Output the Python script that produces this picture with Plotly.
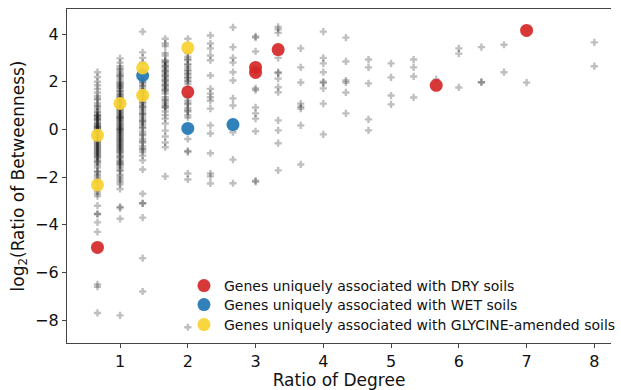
import plotly.graph_objects as go

# ---- gray background genes: one list of log2(betweenness ratio) per degree-ratio column ----
deg_cols = [2/3, 1, 4/3, 5/3, 2, 7/3, 8/3, 3, 10/3, 11/3, 4, 13/3, 14/3, 5, 16/3, 17/3, 6, 19/3, 20/3, 7, 8]

b_067 = [2.4, 2.2, 2.0, 1.85, 1.7, 1.55, 1.4, 1.3, 1.25, 1.1, 1.0, 0.95, 0.85, 0.75, 0.7, 0.6, 0.6,
         0.55, 0.5, 0.45, 0.4, 0.4, 0.3, 0.25, 0.2, 0.15, 0.1, 0.1, 0.05, 0.0, -0.05, -0.1, -0.2,
         -0.3, -0.35, -0.45, -0.5, -0.55, -0.6, -0.65, -0.7, -0.75, -0.8, -0.85, -0.9, -0.95, -1.0,
         -1.05, -1.1, -1.15, -1.2, -1.3, -1.35, -1.4, -1.5, -1.6, -1.75, -1.8, -1.9, -2.0, -2.1,
         -2.2, -2.45, -2.6, -2.7, -2.8, -3.2, -3.55, -3.55, -3.9, -4.3, -6.5, -6.6, -7.7]
b_1 = [2.98, 2.8, 2.65, 2.55, 2.5, 2.4, 2.3, 2.25, 2.2, 2.1, 2.0, 1.95, 1.9, 1.85, 1.8, 1.75, 1.7,
       1.6, 1.6, 1.5, 1.45, 1.4, 1.35, 1.3, 1.25, 1.2, 1.15, 1.1, 1.0, 0.95, 0.9, 0.85, 0.8, 0.75,
       0.7, 0.65, 0.6, 0.55, 0.5, 0.5, 0.45, 0.4, 0.35, 0.3, 0.25, 0.2, 0.15, 0.1, 0.05, 0.0, 0.0,
       -0.05, -0.1, -0.15, -0.2, -0.25, -0.3, -0.35, -0.4, -0.45, -0.5, -0.55, -0.6, -0.65, -0.7,
       -0.75, -0.8, -0.85, -0.9, -0.95, -1.0, -1.1, -1.15, -1.2, -1.3, -1.35, -1.4, -1.45, -1.5,
       -1.6, -1.7, -1.75, -1.9, -2.0, -2.1, -2.2, -2.3, -2.5, -3.25, -3.3, -3.75, -7.8]
b_133 = [4.1, 3.23, 3.0, 2.8, 2.45, 2.1, 2.0, 1.95, 1.85, 1.8, 1.7, 1.6, 1.55, 1.4, 1.35, 1.25,
         1.15, 1.1, 1.0, 0.95, 0.9, 0.8, 0.7, 0.65, 0.6, 0.5, 0.4, 0.35, 0.3, 0.2, 0.1, 0.05, -0.1,
         -0.2, -0.25, -0.4, -0.5, -0.55, -0.7, -0.8, -0.85, -0.95, -1.1, -1.3, -1.68, -2.7, -3.1,
         -3.1, -3.7, -5.4, -6.8]
b_167 = [3.8, 3.6, 3.5, 3.2, 3.1, 2.9, 2.85, 2.8, 2.7, 2.65, 2.6, 2.5, 2.45, 2.4, 2.3, 2.25, 2.2,
         2.1, 2.05, 2.0, 1.9, 1.85, 1.8, 1.7, 1.65, 1.6, 1.5, 1.35, 1.25, 1.2, 1.1, 1.0, 0.95, 0.9,
         0.75, 0.6, 0.45, 0.25, -0.05, -0.3, -0.55, -0.75, -1.97]
b_2 = [3.8, 3.2, 3.05, 2.95, 2.9, 2.75, 2.7, 2.6, 2.5, 2.45, 2.35, 2.3, 2.2, 2.15, 2.05, 2.0, 1.9,
       1.35, 1.2, 1.1, 1.05, 0.9, 0.8, 0.75, 0.6, 0.5, -0.4, -0.9, -0.95, -1.85, -2.1, -8.3]
b_233 = [3.94, 3.6, 3.4, 3.1, 2.9, 2.26, 1.7, 1.5, 1.35, 1.2, 0.87, 0.17, -0.17, -1.0, -1.85,
         -1.97, -2.27]
b_267 = [4.28, 3.45, 3.0, 2.8, 2.4, 2.05, 1.3, 1.0, -0.12, -1.27, -2.26]
b_3 = [3.9, 3.85, 3.27, 1.72, 1.65, 0.92, 0.67, 0.45, -0.08, -2.15, -2.2]
b_333 = [4.3, 4.2, 4.05, 3.0, 2.4, 2.36, 2.13, 1.77, 1.56, 0.38, -0.04, -0.58, -1.72]
b_367 = [3.4, 2.6, 1.97, 1.08, 0.95, 0.87, 0.17, -1.47]
b_4 = [4.1, 3.0, 2.77, 2.4, 2.0, 1.95, 1.72, 1.08, -0.21]
b_433 = [3.85, 2.85, 2.05, 1.97, 1.55, 0.67]
b_467 = [2.93, 2.6, 1.93, 0.42, -0.04]
b_5 = [2.77, 2.18, 1.42, 1.05]
b_533 = [2.93, 2.6, 2.22, 1.34]
b_567 = [2.1]
b_6 = [3.4, 3.18, 1.76]
b_633 = [3.45, 1.98, 1.98]
b_667 = [3.55, 2.4]
b_7 = [1.96]
b_8 = [3.65, 2.65]
bg_cols = [b_067, b_1, b_133, b_167, b_2, b_233, b_267, b_3, b_333, b_367, b_4, b_433, b_467,
           b_5, b_533, b_567, b_6, b_633, b_667, b_7, b_8]

# ---- highlighted gene groups ----
dry_x = [2/3, 2, 3, 3, 10/3, 17/3, 7]
dry_y = [-4.95, 1.57, 2.6, 2.39, 3.35, 1.85, 4.15]
wet_x = [4/3, 2, 8/3]
wet_y = [2.26, 0.04, 0.2]
gly_x = [2/3, 2/3, 1, 4/3, 4/3, 2]
gly_y = [-0.25, -2.33, 1.09, 2.58, 1.43, 3.42]

labels = ["Genes uniquely associated with DRY soils",
          "Genes uniquely associated with WET soils",
          "Genes uniquely associated with GLYCINE-amended soils"]
colors = ["#d62728", "#1f77b4", "#f9d22e"]

bg_x, bg_y = [], []
for xv, col in zip(deg_cols, bg_cols):
    bg_x += [xv] * len(col)
    bg_y += col

font = "DejaVu Sans, sans-serif"

fig = go.Figure()
fig.add_trace(go.Scatter(x=bg_x, y=bg_y, mode="markers", showlegend=False,
                         marker=dict(symbol="cross", size=6, color="rgba(0,0,0,0.25)",
                                     line=dict(width=0))))
legend_names = ["legend", "legend2", "legend3"]
for xs, ys, lab, c, lg in zip([dry_x, wet_x, gly_x], [dry_y, wet_y, gly_y], labels, colors,
                              legend_names):
    fig.add_trace(go.Scatter(x=xs, y=ys, mode="markers", name=lab, legend=lg,
                             marker=dict(symbol="circle", size=13, color=c, opacity=0.92,
                                         line=dict(width=0))))

legend_rows = [0.1707, 0.1138, 0.0539]
legend_style = dict(x=0.215, xanchor="left", yanchor="middle",
                    bgcolor="rgba(255,255,255,0)", font=dict(size=14, family=font, color="#111"),
                    itemwidth=30)

fig.update_layout(
    width=621, height=390,
    margin=dict(l=67, r=0, t=9, b=47),
    paper_bgcolor="white", plot_bgcolor="white",
    font=dict(family=font, color="#111"),
    legend=dict(y=legend_rows[0], **legend_style),
    legend2=dict(y=legend_rows[1], **legend_style),
    legend3=dict(y=legend_rows[2], **legend_style),
    xaxis=dict(range=[0.217, 8.246], tickmode="array", tickvals=[1, 2, 3, 4, 5, 6, 7, 8],
               automargin=False,
               showgrid=False, zeroline=False, showline=True, linecolor="#444", linewidth=1.2,
               mirror=True, ticks="outside", ticklen=4, tickcolor="#444",
               tickfont=dict(size=16, family=font, color="#111"),
               title=dict(text="Ratio of Degree", font=dict(size=17, family=font, color="#111"),
                          standoff=4)),
    yaxis=dict(range=[-8.96, 5.05], tickmode="array", tickvals=[-8, -6, -4, -2, 0, 2, 4],
               ticktext=["\u22128", "\u22126", "\u22124", "\u22122", "0", "2", "4"],
               automargin=False,
               showgrid=False, zeroline=False, showline=True, linecolor="#444", linewidth=1.2,
               mirror=False, ticks="outside", ticklen=4, tickcolor="#444",
               tickfont=dict(size=16, family=font, color="#111"),
               title=dict(text="log<sub>2</sub>(Ratio of Betweenness)",
                          font=dict(size=17, family=font, color="#111"), standoff=6)),
)
fig.write_html("out.html", config={"displayModeBar": False})

# remove the browser's default page margin so the figure sits at (0, 0)
with open("out.html", encoding="utf-8") as f:
    html = f.read()
html = html.replace("<head>", "<head><style>html,body{margin:0;padding:0;overflow:hidden}</style>", 1)
with open("out.html", "w", encoding="utf-8") as f:
    f.write(html)
